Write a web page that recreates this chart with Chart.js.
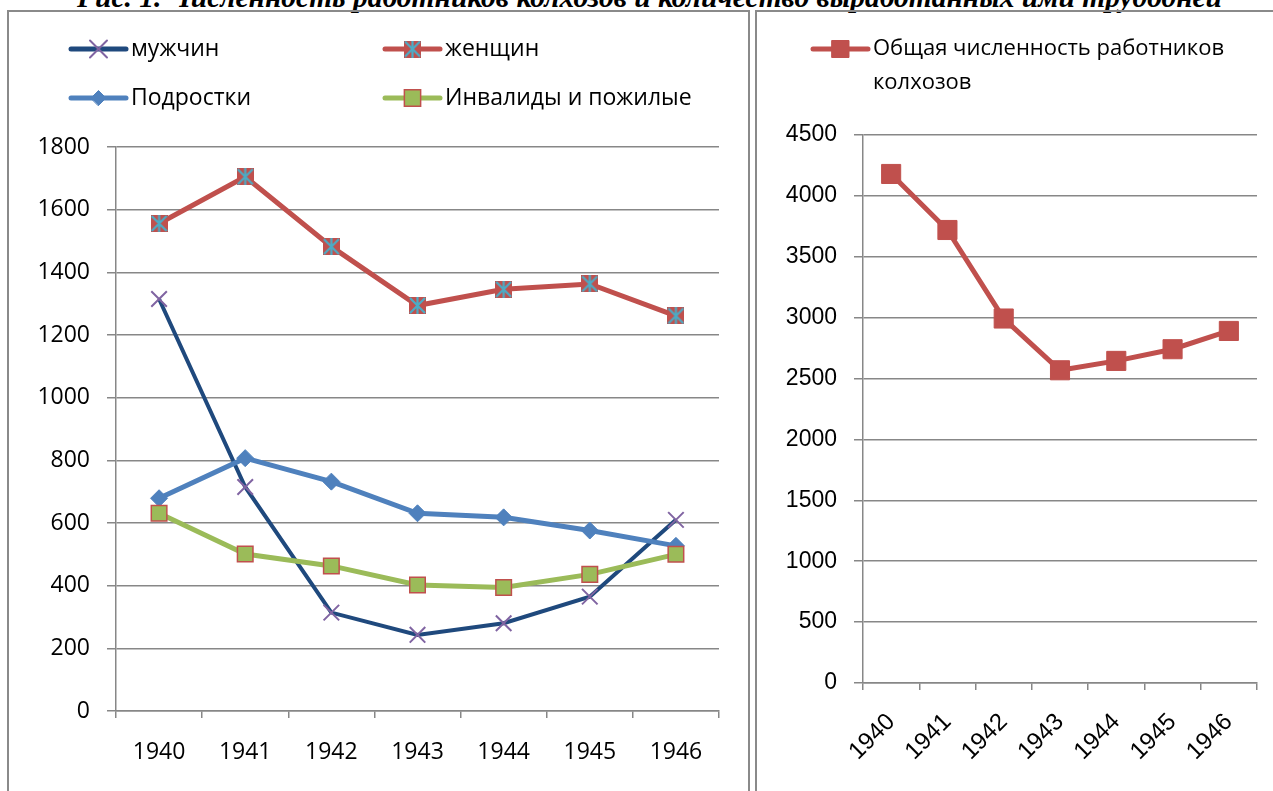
<!DOCTYPE html>
<html lang="ru">
<head>
<meta charset="utf-8">
<title>Численность работников колхозов</title>
<script src="https://cdn.jsdelivr.net/npm/chart.js@4.4.1/dist/chart.umd.min.js"></script>
<style>
    html, body { margin: 0; padding: 0; background: #fff; }
    body { width: 1273px; height: 791px; position: relative; overflow: hidden; }
    .title {
        position: absolute; left: 77px; top: -17px;
        font: bold italic 29.5px "Liberation Serif", "Times New Roman", serif;
        line-height: 29px; white-space: nowrap; color: #000;
    }
    .frame { position: absolute; top: 10px; height: 800px; border: 2px solid #8a8a8a; box-sizing: border-box; }
    #leftFrame { left: 7px; width: 743px; }
    #rightFrame { left: 755px; width: 540px; }
    canvas { position: absolute; top: 0; }
    #peopleChart { left: 0; }
    #totalChart { left: 752px; }
</style>
</head>
<body>
<div class="title">Рис. 1. Численность работников колхозов и количество выработанных ими трудодней</div>
<div class="frame" id="leftFrame"></div>
<div class="frame" id="rightFrame"></div>
<canvas id="peopleChart" width="752" height="791"></canvas>
<canvas id="totalChart" width="521" height="791"></canvas>

<script>
// Data
const years = ['1940', '1941', '1942', '1943', '1944', '1945', '1946'];
const men = [1315, 715, 314, 243, 280, 365, 610];
const women = [1556, 1705, 1482, 1294, 1346, 1363, 1261];
const teens = [679, 807, 732, 631, 618, 576, 527];
const elderly = [631, 501, 463, 402, 394, 436, 500];
const totalWorkers = [4180, 3720, 2993, 2568, 2645, 2741, 2891];

const GRID = '#878787';
const UI_FONT = '"Open Sans", "Noto Sans", sans-serif';
const ARIAL = '"Liberation Sans", Arial, sans-serif';

// red square with cyan star, Excel style marker
function makeStarSquare(size) {
    const c = document.createElement('canvas');
    c.width = size;
    c.height = size;
    const g = c.getContext('2d');
    g.fillStyle = '#C0504D';
    g.fillRect(0, 0, size, size);
    g.strokeStyle = '#4BACC6';
    g.lineWidth = 2.2;
    g.beginPath();
    g.moveTo(1, 1); g.lineTo(size - 1, size - 1);
    g.moveTo(size - 1, 1); g.lineTo(1, size - 1);
    g.moveTo(size / 2, 0); g.lineTo(size / 2, size);
    g.stroke();
    return c;
}

// legend laid out in fixed slots (line + marker + text)
const gridLegend = {
    id: 'gridLegend',
    afterDraw(chart, args, opts) {
        const ctx = chart.ctx;
        ctx.save();
        chart.data.datasets.forEach((ds, i) => {
            const slot = opts.slots[i];
            const x0 = slot.x;
            const x1 = slot.x + opts.lineLength;
            const y = slot.y;

            ctx.lineCap = 'round';
            ctx.strokeStyle = ds.borderColor;
            ctx.lineWidth = opts.lineWidth;
            ctx.beginPath();
            ctx.moveTo(x0, y);
            ctx.lineTo(x1, y);
            ctx.stroke();

            ctx.fillStyle = ds.pointBackgroundColor;
            ctx.strokeStyle = ds.pointBorderColor;
            ctx.lineWidth = ds.pointBorderWidth;
            Chart.helpers.drawPoint(ctx, {
                pointStyle: ds.pointStyle,
                radius: slot.radius || ds.pointRadius,
                rotation: 0,
                borderWidth: ds.pointBorderWidth
            }, (x0 + x1) / 2, y);

            ctx.fillStyle = '#000';
            ctx.font = opts.font;
            ctx.textAlign = 'left';
            ctx.textBaseline = 'middle';
            const words = ds.label.split(' ');
            const lines = [];
            let line = '';
            words.forEach(w => {
                const test = line ? line + ' ' + w : w;
                if (line && ctx.measureText(test).width > opts.maxWidth) {
                    lines.push(line);
                    line = w;
                } else {
                    line = test;
                }
            });
            lines.push(line);
            lines.forEach((l, k) => ctx.fillText(l, x1 + opts.gap, y + k * opts.lineHeight));
        });
        ctx.restore();
    }
};

const ChartBuilder = {
    yScale(max, step, width, labelFont) {
        return {
            min: 0,
            max: max,
            afterFit(scale) { scale.width = width; },
            ticks: {
                stepSize: step,
                padding: 17,
                color: '#000',
                font: labelFont,
                callback: value => String(value)
            },
            grid: { color: GRID, lineWidth: 1.5, tickLength: 9, drawTicks: true },
            border: { color: GRID, width: 1.5 }
        };
    },

    xScale(height, labelFont, rotation, padding) {
        return {
            type: 'category',
            offset: true,
            afterFit(scale) { scale.height = height; },
            ticks: {
                color: '#000',
                font: labelFont,
                padding: padding,
                minRotation: rotation,
                maxRotation: rotation,
                autoSkip: false
            },
            grid: { offset: true, drawOnChartArea: false, color: GRID, lineWidth: 1.5, tickLength: 7 },
            border: { color: GRID, width: 1.5 }
        };
    },

    people() {
        const ctx = document.getElementById('peopleChart').getContext('2d');
        return new Chart(ctx, {
            type: 'line',
            data: {
                labels: years,
                datasets: [{
                    label: 'мужчин',
                    data: men,
                    borderColor: '#1F497D',
                    borderWidth: 4,
                    pointStyle: 'crossRot',
                    pointRadius: 11,
                    pointBackgroundColor: 'rgba(0,0,0,0)',
                    pointBorderColor: '#8064A2',
                    pointBorderWidth: 2,
                    order: 4
                }, {
                    label: 'женщин',
                    data: women,
                    borderColor: '#C0504D',
                    borderWidth: 5,
                    pointStyle: makeStarSquare(17),
                    pointRadius: 8.5,
                    pointBackgroundColor: '#C0504D',
                    pointBorderColor: '#4BACC6',
                    pointBorderWidth: 0,
                    order: 3
                }, {
                    label: 'Подростки',
                    data: teens,
                    borderColor: '#4F81BD',
                    borderWidth: 5,
                    pointStyle: 'rectRot',
                    pointRadius: 8.5,
                    pointBackgroundColor: '#4F81BD',
                    pointBorderColor: '#4F81BD',
                    pointBorderWidth: 1,
                    order: 2
                }, {
                    label: 'Инвалиды и пожилые',
                    data: elderly,
                    borderColor: '#9BBB59',
                    borderWidth: 5,
                    pointStyle: 'rect',
                    pointRadius: 11,
                    pointBackgroundColor: '#9BBB59',
                    pointBorderColor: '#C0504D',
                    pointBorderWidth: 1.5,
                    order: 1
                }]
            },
            options: {
                responsive: false,
                animation: false,
                layout: { padding: { top: 147, right: 33, bottom: 0, left: 0 } },
                scales: {
                    x: this.xScale(80, { family: UI_FONT, size: 23 }, 0, 21),
                    y: this.yScale(1800, 200, 116, { family: UI_FONT, size: 23 })
                },
                plugins: {
                    legend: { display: false },
                    tooltip: { enabled: false },
                    gridLegend: {
                        slots: [
                            { x: 71, y: 49, radius: 12 },
                            { x: 385, y: 49 },
                            { x: 71, y: 98, radius: 7.5 },
                            { x: 385, y: 98, radius: 11.5 }
                        ],
                        lineLength: 55,
                        lineWidth: 5,
                        gap: 5,
                        font: '23px ' + UI_FONT,
                        maxWidth: 400,
                        lineHeight: 34
                    }
                }
            },
            plugins: [gridLegend]
        });
    },

    total() {
        const ctx = document.getElementById('totalChart').getContext('2d');
        return new Chart(ctx, {
            type: 'line',
            data: {
                labels: years,
                datasets: [{
                    label: 'Общая численность работников колхозов',
                    data: totalWorkers,
                    borderColor: '#C0504D',
                    borderWidth: 5,
                    pointStyle: 'rect',
                    pointRadius: 13.5,
                    pointBackgroundColor: '#C0504D',
                    pointBorderColor: '#C0504D',
                    pointBorderWidth: 1
                }]
            },
            options: {
                responsive: false,
                animation: false,
                layout: { padding: { top: 135, right: 16, bottom: 0, left: 0 } },
                scales: {
                    x: this.xScale(108, { family: ARIAL, size: 24 }, 45, 18),
                    y: this.yScale(4500, 500, 111, { family: ARIAL, size: 23 })
                },
                plugins: {
                    legend: { display: false },
                    tooltip: { enabled: false },
                    gridLegend: {
                        slots: [{ x: 61, y: 49, radius: 12 }],
                        lineLength: 55,
                        lineWidth: 5,
                        gap: 5,
                        font: '22px ' + UI_FONT,
                        maxWidth: 375,
                        lineHeight: 34
                    }
                }
            },
            plugins: [gridLegend]
        });
    }
};

document.addEventListener('DOMContentLoaded', () => {
    ChartBuilder.people();
    ChartBuilder.total();
});
</script>
</body>
</html>
